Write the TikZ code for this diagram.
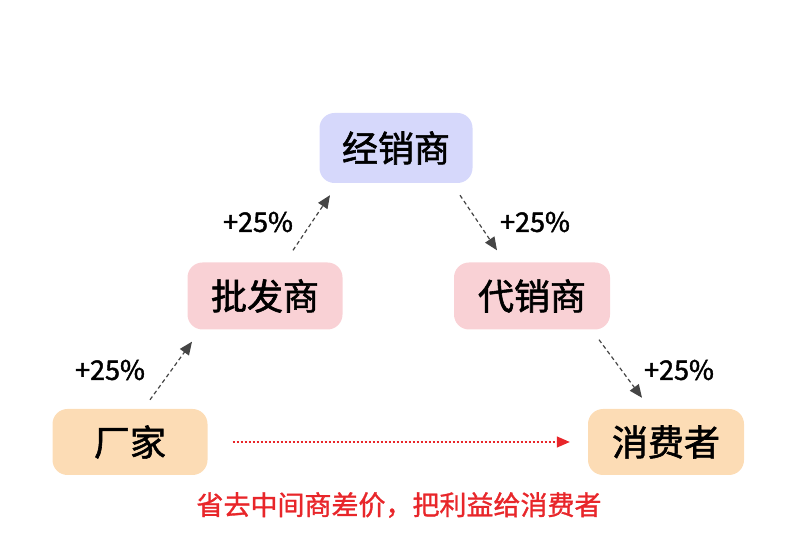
\documentclass[tikz,border=0pt]{standalone}
\usepackage{fontspec}
\setmainfont{Noto Sans CJK SC}[FakeBold=1.2]
\newfontfamily\boxfont{Noto Sans CJK SC}[FakeBold=1.6]
\usetikzlibrary{arrows.meta}
\definecolor{lavbox}{HTML}{D6D8FB}
\definecolor{pinkbox}{HTML}{F9D1D5}
\definecolor{peachbox}{HTML}{FCDCB5}
\definecolor{arrowgray}{HTML}{454545}
\definecolor{notered}{HTML}{E8262A}
\tikzset{
  stage/.style={rounded corners=15pt, minimum width=155pt, minimum height=67pt, inner sep=0pt, font=\boxfont\fontsize{36}{36}\selectfont},
  markup/.style={font=\boxfont\fontsize{27}{27}\selectfont},
  flow/.style={draw=arrowgray, line width=1.2pt, dash pattern=on 4pt off 3pt, -{Triangle[length=13pt,width=11pt]}, arrowgray},
  direct/.style={draw=notered, line width=1.3pt, dash pattern=on 2.5pt off 1.5pt, -{Triangle[length=13pt,width=11pt]}, notered}
}
\begin{document}
\begin{tikzpicture}[x=1pt, y=1pt]  %Escala em pontos
    \useasboundingbox (0,0) rectangle (790,546);
        %Caixas
    \node[stage, fill=lavbox, minimum width=153pt, minimum height=70pt] (dist) at (396,398) {经销商};
    \node[stage, fill=pinkbox] (whole) at (265,250) {批发商};
    \node[stage, fill=pinkbox, minimum width=156pt] (agent) at (532,250) {代销商};
    \node[stage, fill=peachbox, minimum height=66pt] (factory) at (130,104) {厂家};
    \node[stage, fill=peachbox, minimum width=156pt, minimum height=66pt] (consumer) at (666,104) {消费者};
        %Setas
    \draw[flow] ([xshift=20pt,yshift=9pt]factory.north) -- ([xshift=-73pt,yshift=-12pt]whole.south); %Fabrica -> atacado
    \draw[flow] ([xshift=28pt,yshift=12pt]whole.north) -- ([xshift=-66pt,yshift=-12pt]dist.south); %Atacado -> distribuidor
    \draw[flow] ([xshift=64pt,yshift=-12pt]dist.south) -- ([xshift=-35pt,yshift=12pt]agent.north); %Distribuidor -> agente
    \draw[flow] ([xshift=67pt,yshift=-10pt]agent.south) -- ([xshift=-24pt,yshift=11pt]consumer.north); %Agente -> consumidor
    \draw[direct] ([xshift=25pt]factory.east) -- ([xshift=-18pt]consumer.west); %Direto
        %Rotulos
    \node[markup] (up1) at (110,176) {+25\%};
    \node[markup] (up2) at (258,324) {+25\%};
    \node[markup] (up3) at (535,324) {+25\%};
    \node[markup] (up4) at (679,176) {+25\%};
    \node[notered, font=\fontsize{27}{27}\selectfont] (note) at (399,41) {省去中间商差价，把利益给消费者};
\end{tikzpicture}
\end{document}
